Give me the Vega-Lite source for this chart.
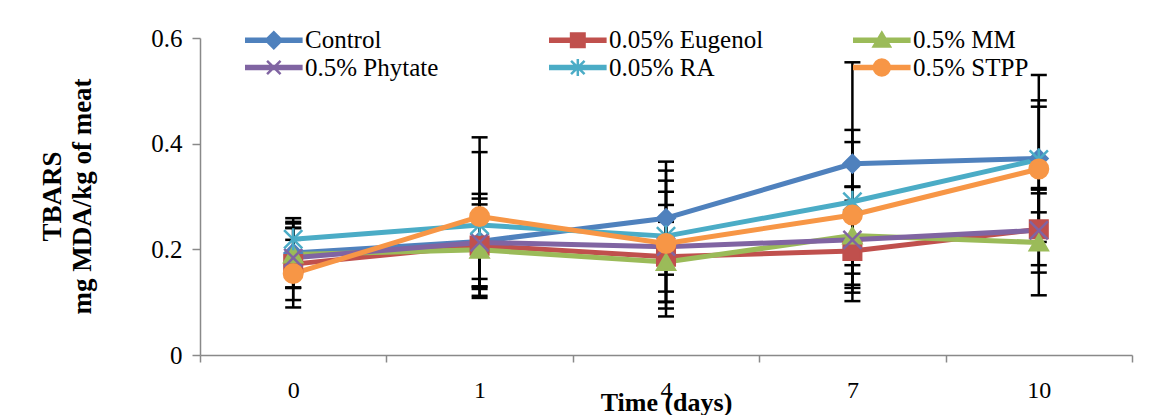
{
  "$schema": "https://vega.github.io/schema/vega-lite/v6.json",
  "autosize": {"type": "none"},
  "width": 932,
  "height": 317,
  "padding": {"left": 200, "top": 38, "right": 19, "bottom": 60},
  "background": "white",
  "config": {
    "view": {"stroke": null},
    "font": "Liberation Serif",
    "axis": {"domainColor": "#898989", "domainWidth": 1.5, "tickColor": "#898989", "tickWidth": 1.5, "labelColor": "black", "titleColor": "black", "grid": false},
    "legend": {"labelFont": "Liberation Serif", "labelFontSize": 25, "labelColor": "black", "labelLimit": 0}
  },
  "data": {
    "values": [
      {"series": "Control", "day": "0", "value": 0.193, "lo": 0.127, "hi": 0.259},
      {"series": "Control", "day": "1", "value": 0.215, "lo": 0.125, "hi": 0.305},
      {"series": "Control", "day": "4", "value": 0.259, "lo": 0.152, "hi": 0.366},
      {"series": "Control", "day": "7", "value": 0.362, "lo": 0.170, "hi": 0.554},
      {"series": "Control", "day": "10", "value": 0.372, "lo": 0.214, "hi": 0.530},
      {"series": "0.05% Eugenol", "day": "0", "value": 0.172, "lo": 0.104, "hi": 0.240},
      {"series": "0.05% Eugenol", "day": "1", "value": 0.207, "lo": 0.129, "hi": 0.285},
      {"series": "0.05% Eugenol", "day": "4", "value": 0.186, "lo": 0.088, "hi": 0.284},
      {"series": "0.05% Eugenol", "day": "7", "value": 0.197, "lo": 0.102, "hi": 0.292},
      {"series": "0.05% Eugenol", "day": "10", "value": 0.238, "lo": 0.170, "hi": 0.306},
      {"series": "0.5% MM", "day": "0", "value": 0.190, "lo": 0.128, "hi": 0.252},
      {"series": "0.5% MM", "day": "1", "value": 0.199, "lo": 0.144, "hi": 0.254},
      {"series": "0.5% MM", "day": "4", "value": 0.176, "lo": 0.100, "hi": 0.252},
      {"series": "0.5% MM", "day": "7", "value": 0.226, "lo": 0.133, "hi": 0.319},
      {"series": "0.5% MM", "day": "10", "value": 0.213, "lo": 0.113, "hi": 0.313},
      {"series": "0.5% Phytate", "day": "0", "value": 0.184, "lo": 0.127, "hi": 0.241},
      {"series": "0.5% Phytate", "day": "1", "value": 0.213, "lo": 0.130, "hi": 0.296},
      {"series": "0.5% Phytate", "day": "4", "value": 0.205, "lo": 0.101, "hi": 0.309},
      {"series": "0.5% Phytate", "day": "7", "value": 0.218, "lo": 0.118, "hi": 0.318},
      {"series": "0.5% Phytate", "day": "10", "value": 0.236, "lo": 0.156, "hi": 0.316},
      {"series": "0.05% RA", "day": "0", "value": 0.219, "lo": 0.189, "hi": 0.249},
      {"series": "0.05% RA", "day": "1", "value": 0.246, "lo": 0.108, "hi": 0.384},
      {"series": "0.05% RA", "day": "4", "value": 0.225, "lo": 0.120, "hi": 0.330},
      {"series": "0.05% RA", "day": "7", "value": 0.290, "lo": 0.154, "hi": 0.426},
      {"series": "0.05% RA", "day": "10", "value": 0.370, "lo": 0.270, "hi": 0.470},
      {"series": "0.5% STPP", "day": "0", "value": 0.154, "lo": 0.090, "hi": 0.218},
      {"series": "0.5% STPP", "day": "1", "value": 0.262, "lo": 0.112, "hi": 0.412},
      {"series": "0.5% STPP", "day": "4", "value": 0.211, "lo": 0.073, "hi": 0.349},
      {"series": "0.5% STPP", "day": "7", "value": 0.265, "lo": 0.127, "hi": 0.403},
      {"series": "0.5% STPP", "day": "10", "value": 0.352, "lo": 0.222, "hi": 0.482}
    ]
  },
  "encoding": {
    "x": {
      "field": "day", "type": "ordinal", "sort": ["0", "1", "4", "7", "10"],
      "scale": {"type": "band", "paddingInner": 0, "paddingOuter": 0},
      "axis": {"title": "Time (days)", "labelAngle": 0, "tickBand": "extent", "tickSize": 7, "labelPadding": 16, "labelFontSize": 24, "labelFont": "Liberation Serif", "titleFont": "Liberation Serif", "titleFontSize": 26, "titleFontWeight": "bold", "titleBaseline": "top", "titleY": 34}
    }
  },
  "layer": [
    {
      "mark": {"type": "rule", "color": "black", "strokeWidth": 2.5},
      "encoding": {
        "y": {"field": "lo", "type": "quantitative", "scale": {"domain": [0, 0.6], "nice": false},
          "axis": {"title": ["TBARS", "mg MDA/kg of meat"], "values": [0, 0.2, 0.4, 0.6], "format": "~g", "tickSize": 8, "labelPadding": 10, "labelFontSize": 25, "labelFont": "Liberation Serif", "titleFont": "Liberation Serif", "titleFontSize": 27, "titleFontWeight": "bold", "titleLineHeight": 30, "titleBaseline": "alphabetic", "titleX": -140, "titleY": 158, "titleAngle": -90, "titleAlign": "center"}},
        "y2": {"field": "hi"}
      }
    },
    {
      "mark": {"type": "tick", "orient": "horizontal", "color": "black", "size": 16, "thickness": 2.5, "opacity": 1},
      "encoding": {"y": {"field": "lo", "type": "quantitative"}}
    },
    {
      "mark": {"type": "tick", "orient": "horizontal", "color": "black", "size": 16, "thickness": 2.5, "opacity": 1},
      "encoding": {"y": {"field": "hi", "type": "quantitative"}}
    },
    {
      "mark": {"type": "line", "strokeWidth": 5, "strokeJoin": "round", "strokeCap": "round"},
      "encoding": {
        "y": {"field": "value", "type": "quantitative"},
        "color": {
          "field": "series", "type": "nominal",
          "scale": {"domain": ["Control", "0.05% Eugenol", "0.5% MM", "0.5% Phytate", "0.05% RA", "0.5% STPP"], "range": ["#4F81BD", "#C0504D", "#9BBB59", "#8064A2", "#4BACC6", "#F79646"]},
          "legend": {
            "title": null, "orient": "none", "legendX": 45, "legendY": -12, "direction": "horizontal", "columns": 3, "gridAlign": "all", "columnPadding": 85, "rowPadding": -3, "padding": 0,
            "symbolSize": 600, "labelOffset": 33, "labelFont": "Liberation Serif", "labelFontSize": 25, "labelColor": "black", "labelLimit": 0,
            "encode": {
              "symbols": {
                "update": {
                  "shape": {"signal": "['M-1,-0.12H3.5V0.12H-1Z M0.6,0L1.25,-0.65L1.9,0L1.25,0.65Z', 'M-1,-0.12H3.5V0.12H-1Z M0.7,-0.55H1.8V0.55H0.7Z', 'M-1,-0.12H3.5V0.12H-1Z M1.25,-0.62L1.92,0.52H0.58Z', 'M-1,-0.12H3.5V0.12H-1Z M0.7,-0.55L1.8,0.55M0.7,0.55L1.8,-0.55', 'M-1,-0.12H3.5V0.12H-1Z M0.7,-0.55L1.8,0.55M0.7,0.55L1.8,-0.55M1.25,-0.7V0.7', 'M-1,-0.12H3.5V0.12H-1Z M0.6,0A0.65,0.65 0 1,1 1.9,0A0.65,0.65 0 1,1 0.6,0Z'][indexof(['Control', '0.05% Eugenol', '0.5% MM', '0.5% Phytate', '0.05% RA', '0.5% STPP'], datum.value)]"},
                  "fill": {"signal": "scale('color', datum.value)"},
                  "stroke": {"signal": "scale('color', datum.value)"},
                  "strokeWidth": {"value": 2.5},
                  "opacity": {"value": 1},
                  "fillOpacity": {"value": 1},
                  "strokeOpacity": {"value": 1}
                }
              },
              "labels": {
                "update": {
                  "font": {"value": "Liberation Serif"},
                  "fontSize": {"value": 25},
                  "fill": {"value": "black"}
                }
              }
            }
          }
        }
      }
    },
    {
      "mark": {"type": "point", "filled": true, "strokeWidth": 2.5, "opacity": 1},
      "encoding": {
        "y": {"field": "value", "type": "quantitative"},
        "fill": {"field": "series", "type": "nominal", "legend": null,
          "scale": {"domain": ["0.5% STPP", "0.05% RA", "0.5% Phytate", "0.5% MM", "0.05% Eugenol", "Control"], "range": ["#F79646", "#4BACC6", "#8064A2", "#9BBB59", "#C0504D", "#4F81BD"]}},
        "stroke": {"field": "series", "type": "nominal", "legend": null,
          "scale": {"domain": ["0.5% STPP", "0.05% RA", "0.5% Phytate", "0.5% MM", "0.05% Eugenol", "Control"], "range": ["#F79646", "#4BACC6", "#8064A2", "#9BBB59", "#C0504D", "#4F81BD"]}},
        "shape": {"field": "series", "type": "nominal", "legend": null,
          "scale": {"domain": ["0.5% STPP", "0.05% RA", "0.5% Phytate", "0.5% MM", "0.05% Eugenol", "Control"], "range": ["circle", "M-1,-1L1,1M-1,1L1,-1M0,-1.2V1.2", "M-1,-1L1,1M-1,1L1,-1", "triangle-up", "square", "diamond"]}},
        "size": {"field": "series", "type": "nominal", "legend": null,
          "scale": {"domain": ["0.5% STPP", "0.05% RA", "0.5% Phytate", "0.5% MM", "0.05% Eugenol", "Control"], "range": [340, 300, 250, 300, 230, 260]}}
      }
    }
  ]
}
